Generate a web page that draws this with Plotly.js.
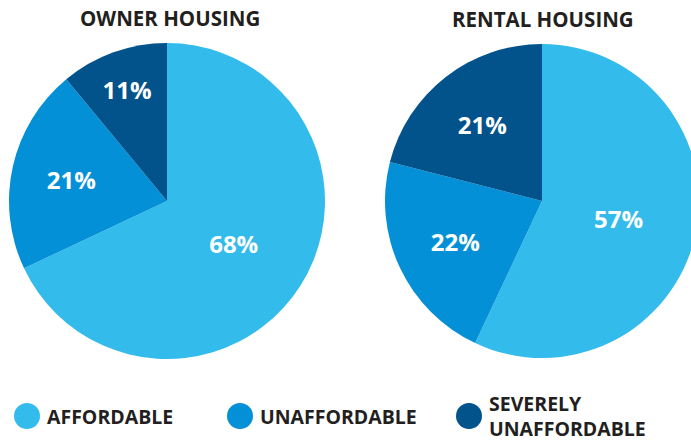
<!DOCTYPE html>
<html><head><meta charset="utf-8">
<script src="https://cdn.plot.ly/plotly-3.0.1.min.js"></script>
<style>html,body{margin:0;padding:0;overflow:hidden;background:#fff;width:691px;height:442px}#chart{width:710px;height:442px}</style>
</head><body><div id="chart"></div>
<script>
const categories = ['AFFORDABLE', 'UNAFFORDABLE', 'SEVERELY<br>UNAFFORDABLE'];
const ownerValues = [68, 21, 11];
const rentalValues = [57, 22, 21];
const chartTitles = ['OWNER HOUSING', 'RENTAL HOUSING'];
const colors = ['#33BBEC', '#0390D7', '#02528C'];

const W = 710, H = 442;
const FONT = '"Open Sans", sans-serif';
const px = x => x / W;
const py = y => 1 - y / H;

function pieTrace(vals, x0, x1, y0, y1) {
  return {
    type: 'pie', values: vals, labels: categories, sort: false, direction: 'clockwise', rotation: 0,
    marker: {colors: colors, line: {width: 0}},
    texttemplate: '%{value}%', textinfo: 'text', textposition: 'inside',
    insidetextorientation: 'horizontal',
    textfont: {family: FONT, size: 24, color: '#ffffff', weight: 'bold'},
    hoverinfo: 'none', showlegend: false,
    domain: {x: [px(x0), px(x1)], y: [py(y1), py(y0)]}
  };
}

const data = [
  pieTrace(ownerValues, 9, 325, 43, 359),
  pieTrace(rentalValues, 385, 699, 44, 358)
];

const annotations = [
  {text: '<b>' + chartTitles[0] + '</b>', x: px(170), y: py(18), xref: 'paper', yref: 'paper', xanchor: 'center', yanchor: 'middle', showarrow: false, font: {family: FONT, size: 20.5, color: '#231F20'}},
  {text: '<b>' + chartTitles[1] + '</b>', x: px(543), y: py(19), xref: 'paper', yref: 'paper', xanchor: 'center', yanchor: 'middle', showarrow: false, font: {family: FONT, size: 20.5, color: '#231F20'}}
];
const legendX = [27, 240, 469];
const shapes = [];
categories.forEach((c, i) => {
  const cx = legendX[i], cy = 416;
  shapes.push({type: 'circle', xref: 'paper', yref: 'paper', x0: px(cx - 13), x1: px(cx + 13), y0: py(cy + 13), y1: py(cy - 13), fillcolor: colors[i], line: {width: 0}});
  annotations.push({text: '<b>' + c + '</b>', x: px(cx + 18), y: py(cy), xref: 'paper', yref: 'paper', xanchor: 'left', yanchor: 'middle', align: 'left', showarrow: false, font: {family: FONT, size: 19.5, color: '#231F20'}});
});

const layout = {
  width: W, height: H, margin: {l: 0, r: 0, t: 0, b: 0},
  paper_bgcolor: '#ffffff', plot_bgcolor: '#ffffff',
  annotations: annotations, shapes: shapes, showlegend: false
};
Plotly.newPlot('chart', data, layout, {displayModeBar: false, staticPlot: true});
</script></body></html>
